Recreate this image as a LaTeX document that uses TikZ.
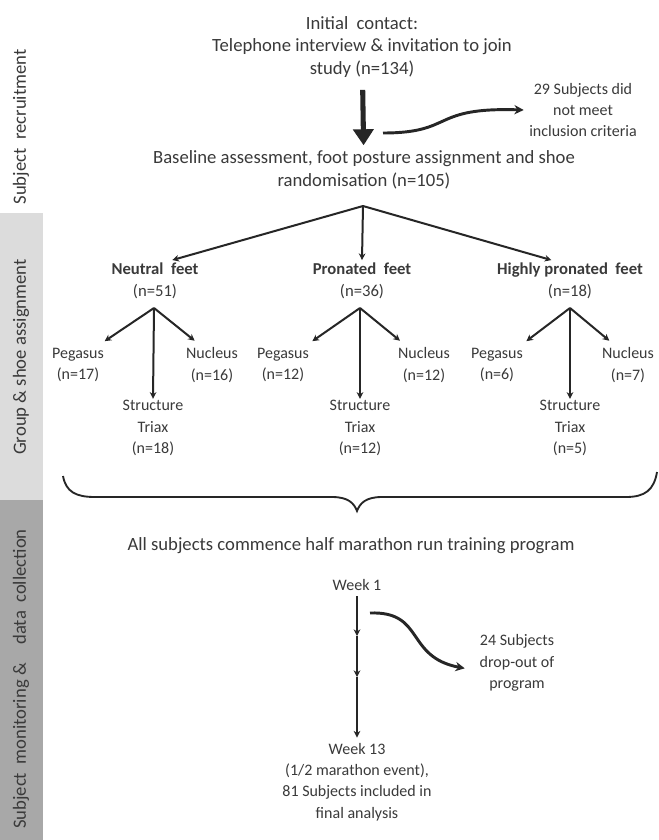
\documentclass[tikz,border=0pt]{standalone}
\usepackage{fontspec}
\setmainfont{Carlito}
\usetikzlibrary{arrows.meta}

\definecolor{txtgray}{HTML}{3A3A3A}
\definecolor{bandlight}{HTML}{DCDCDC}
\definecolor{banddark}{HTML}{A8A8A8}

\tikzset{
  lbl/.style={text=txtgray, align=center, inner sep=1pt, font=\fontsize{14}{17}\selectfont},
  sm/.style={text=txtgray, align=center, inner sep=1pt, font=\fontsize{12}{16}\selectfont},
  grp/.style={text=txtgray, align=center, inner sep=1pt, font=\fontsize{12.5}{16.5}\selectfont},
  band/.style={text=txtgray, rotate=90, inner sep=0pt, font=\fontsize{14}{17}\selectfont},
  arr/.style={-{Stealth[length=5pt,width=5pt]}, line width=1.5pt, draw=black!85},
  bigarr/.style={-{Triangle[length=12pt,width=15pt]}, line width=3.8pt, draw=black!85},
  curvarr/.style={-{Stealth[length=7pt,width=7pt]}, line width=2.2pt, draw=black!85},
}

\begin{document}
\begin{tikzpicture}[x=0.75pt, y=-0.75pt]
% page and side band
\fill[white] (0,0) rectangle (658,840);
\useasboundingbox (0,0) rectangle (658,840);
\fill[bandlight] (0,213) rectangle (43,500);
\fill[banddark] (0,500) rectangle (43,840);
\node[band] (recruit) at (21,127) {Subject\ \ recruitment};
\node[band] (assign) at (21,357) {Group \& shoe assignment};
\node[band] (monitor) at (21,679) {Subject\ \ monitoring \&\quad data\ \ collection};

% recruitment
\node[lbl] (initial) at (362,47) {Initial\ \ contact:\\Telephone interview \& invitation to join\\study (n=134)};
\node[lbl] (baseline) at (364,170) {Baseline assessment, foot posture assignment and shoe\\randomisation (n=105)};
\node[sm] (excl) at (583,110) {29 Subjects did\\not meet\\inclusion criteria};
\coordinate (exstart) at (383,133);
\draw[bigarr, shorten <=8pt, shorten >=3pt] (initial) -- (baseline);
\draw[curvarr] (exstart) .. controls (455,133) and (430,107) .. ([xshift=-3pt]excl.west);

% foot posture groups
\coordinate (split) at (363,206);
\node[grp] (neutral) at (155,281) {\textbf{Neutral\ \ feet}\\(n=51)};
\node[grp] (pronated) at (362,281) {\textbf{Pronated\ \ feet}\\(n=36)};
\node[grp] (highly) at (570,281) {\textbf{Highly pronated\ \ feet}\\(n=18)};
\draw[arr] (split) -- ([xshift=13pt,yshift=1pt]neutral.north);
\draw[arr] (split) -- ([yshift=1pt]pronated.north);
\draw[arr] (split) -- ([xshift=-14pt,yshift=1pt]highly.north);

% shoe assignment, neutral
\coordinate (nsplit) at (154,308);
\node[sm] (npeg) at (78,365) {Pegasus\\(n=17)};
\node[sm] (nnuc) at (212,365) {Nucleus\\(n=16)};
\node[sm] (ntri) at (153,428) {Structure\\Triax\\(n=18)};
\draw[arr] (nsplit) -- ([xshift=20pt,yshift=4pt]npeg.north);
\draw[arr] (nsplit) -- ([xshift=-13pt,yshift=4pt]nnuc.north);
\draw[arr] (nsplit) -- (ntri.north);

% shoe assignment, pronated
\coordinate (psplit) at (360,308);
\node[sm] (ppeg) at (283,365) {Pegasus\\(n=12)};
\node[sm] (pnuc) at (424,365) {Nucleus\\(n=12)};
\node[sm] (ptri) at (360,428) {Structure\\Triax\\(n=12)};
\draw[arr] (psplit) -- ([xshift=22pt,yshift=4pt]ppeg.north);
\draw[arr] (psplit) -- ([xshift=-18pt,yshift=4pt]pnuc.north);
\draw[arr] (psplit) -- (ptri.north);

% shoe assignment, highly pronated
\coordinate (hsplit) at (570,308);
\node[sm] (hpeg) at (497,365) {Pegasus\\(n=6)};
\node[sm] (hnuc) at (628,365) {Nucleus\\(n=7)};
\node[sm] (htri) at (570,428) {Structure\\Triax\\(n=5)};
\draw[arr] (hsplit) -- ([xshift=22pt,yshift=4pt]hpeg.north);
\draw[arr] (hsplit) -- ([xshift=-14pt,yshift=4pt]hnuc.north);
\draw[arr] (hsplit) -- (htri.north);

% brace
\draw[line width=1.4pt, draw=black!85] (63,476) .. controls (66,492) and (76,497) .. (95,497)
  -- (332,497) .. controls (348,497) and (354,503) .. (357,511)
  .. controls (360,503) and (366,497) .. (382,497)
  -- (626,497) .. controls (645,497) and (654,490) .. (657,472);

% monitoring
\node[lbl] (training) at (351,546) {All subjects commence half marathon run training program};
\node[sm] (week1) at (357,585) {Week 1};
\coordinate (wk4) at (357,636);
\coordinate (wk8) at (357,677);
\node[sm] (week13) at (357,782) {Week 13\\(1/2 marathon event),\\81 Subjects included in\\final analysis};
\node[sm] (dropout) at (517,663) {24 Subjects\\drop-out of\\program};
\coordinate (dropstart) at (370,613);
\draw[arr, shorten <=3pt] (week1) -- (wk4);
\draw[arr] (wk4) -- (wk8);
\draw[arr, shorten >=3pt] (wk8) -- (week13);
\draw[curvarr] (dropstart) .. controls (425,611) and (405,657) .. ([xshift=-10pt,yshift=-4pt]dropout.west);
\end{tikzpicture}
\end{document}
